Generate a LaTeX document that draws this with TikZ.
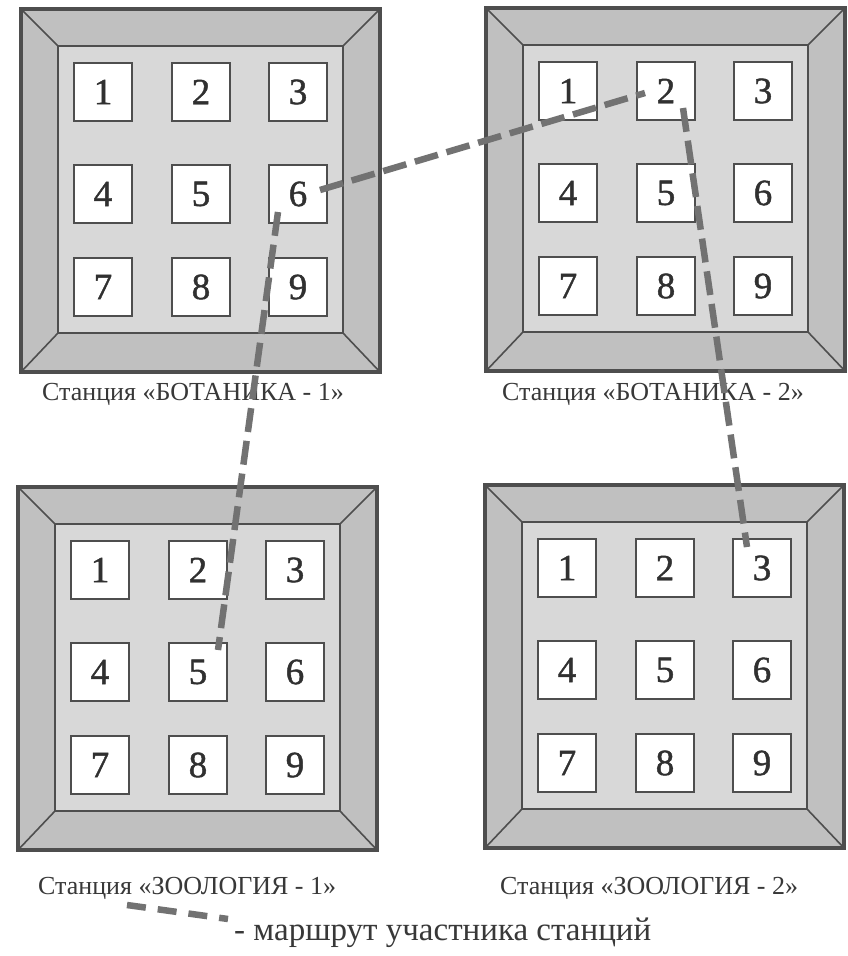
\documentclass[tikz,border=0pt]{standalone}
\usepackage{fontspec}
\setmainfont{Liberation Serif}
\newfontfamily\digitfont{Liberation Serif}[FakeBold=1.2]
\usetikzlibrary{calc}
\definecolor{framefill}{HTML}{C0C0C0}
\definecolor{innerfill}{HTML}{D8D8D8}
\definecolor{edgecol}{HTML}{4E4E4E}
\definecolor{routecol}{HTML}{727272}
\definecolor{digitcol}{HTML}{303030}
\definecolor{textcol}{HTML}{383838}

\tikzset{
  cell/.style={draw=edgecol, line width=2.2pt, fill=white, minimum size=58pt,
    inner sep=0pt, font=\digitfont\fontsize{37}{40}\selectfont, text=digitcol},
  outerbox/.style={draw=edgecol, line width=4pt, fill=framefill},
  innerbox/.style={draw=edgecol, line width=2pt, fill=innerfill},
  bevel/.style={draw=edgecol, line width=1.6pt},
  route/.style={draw=routecol, line width=6.5pt, dash pattern=on 24pt off 9pt},
  caption/.style={font=\fontsize{26}{30}\selectfont, text=textcol,
    anchor=base west, inner sep=0pt},
  legendtext/.style={font=\fontsize{33}{36}\selectfont, text=textcol,
    anchor=base west, inner sep=0pt},
}

\newcommand\drawstation[3]{%
  \begin{scope}[shift={(#2,#3)}]
    \filldraw[outerbox] (0,0) rectangle (359,363);
    \filldraw[innerbox] (37,37) rectangle (322,324);
    \draw[bevel] (0,0) -- (37,37) (359,0) -- (322,37)
                 (0,363) -- (37,324) (359,363) -- (322,324);
    \foreach \r/\yy in {0/54,1/156,2/249}{%
      \foreach \c/\xx in {1/53,2/151,3/248}{%
        \pgfmathtruncatemacro\cellnum{\r*3+\c}%
        \node[cell] (#1\cellnum) at (\xx+29,\yy+29) {\cellnum};
      }}
  \end{scope}}

\begin{document}
\begin{tikzpicture}[x=1pt,y=-1pt]
  \fill[white] (0,0) rectangle (848,956);
  \useasboundingbox (0,0) rectangle (848,956);

  \drawstation{tl}{21}{9}
  \drawstation{tr}{486}{8}
  \drawstation{bl}{18}{487}
  \drawstation{br}{485}{485}

  \node[caption] (cap1) at (42,400) {Станция «БОТАНИКА - 1»};
  \node[caption] (cap2) at (502,400) {Станция «БОТАНИКА - 2»};
  \node[caption] (cap3) at (38,894) {Станция «ЗООЛОГИЯ - 1»};
  \node[caption] (cap4) at (500,894) {Станция «ЗООЛОГИЯ - 2»};

  \draw[route] ($(tl6.center)+(22,-4)$) -- ($(tr2.center)+(-21,2)$);
  \draw[route] ($(tl6.center)+(-20,18)$) -- ($(bl5.center)+(20,-22)$);
  \draw[route] ($(tr2.center)+(17,17)$) -- ($(br3.center)+(-15,-21)$);

  \coordinate (lg1) at (127,905);
  \coordinate (lg2) at (228,919);
  \draw[route, dash pattern=on 19pt off 12pt] (lg1) -- (lg2);
  \node[legendtext] (legtext) at (234,940) {- маршрут участника станций};
\end{tikzpicture}
\end{document}
